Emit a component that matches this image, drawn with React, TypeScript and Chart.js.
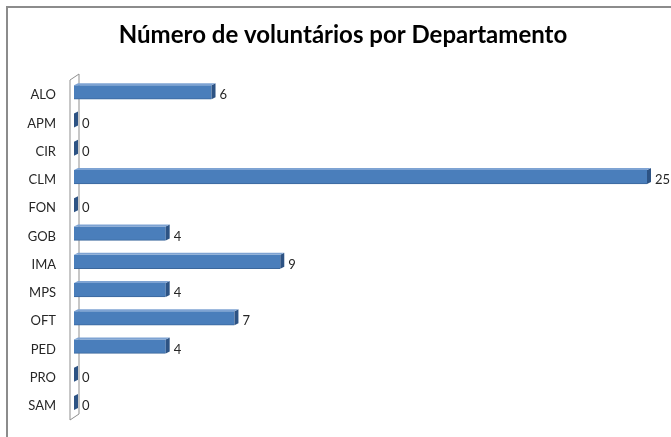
import React, { useEffect, useRef } from "react";
import { Chart, registerables } from "chart.js";

Chart.register(...registerables);

const TITLE = "Número de voluntários por Departamento";
const departments = ["ALO", "APM", "CIR", "CLM", "FON", "GOB", "IMA", "MPS", "OFT", "PED", "PRO", "SAM"];
const volunteers = [6, 0, 0, 25, 0, 4, 9, 4, 7, 4, 0, 0];
const X_MAX = 25;

const FONT = "Lato, 'Open Sans', sans-serif";

const decorPlugin = {
  id: "decor",
  beforeDatasetsDraw(chart: any) {
    const { ctx, chartArea } = chart;
    const l = chartArea.left;
    const t = chartArea.top;
    const b = chartArea.bottom;
    ctx.save();
    ctx.beginPath();
    ctx.moveTo(l - 4, t + 2);
    ctx.lineTo(l + 5, t - 4);
    ctx.lineTo(l + 5, b - 3);
    ctx.lineTo(l - 4, b + 3);
    ctx.closePath();
    ctx.fillStyle = "#ffffff";
    ctx.fill();
    ctx.strokeStyle = "#8f8f8f";
    ctx.lineWidth = 1;
    ctx.stroke();
    ctx.restore();
  },
  afterDatasetsDraw(chart: any) {
    const { ctx } = chart;
    const meta = chart.getDatasetMeta(0);
    ctx.save();
    meta.data.forEach((bar: any, i: number) => {
      const x = bar.x;
      const h = bar.height;
      const top = bar.y - h / 2;
      const bottom = bar.y + h / 2;
      ctx.beginPath();
      ctx.moveTo(x, top);
      ctx.lineTo(x + 4, top - 2);
      ctx.lineTo(x + 4, bottom - 2);
      ctx.lineTo(x, bottom);
      ctx.closePath();
      ctx.fillStyle = "#2d5384";
      ctx.fill();
      if (x - bar.base > 1) {
        ctx.beginPath();
        ctx.moveTo(bar.base, top);
        ctx.lineTo(bar.base + 4, top - 2);
        ctx.lineTo(x + 4, top - 2);
        ctx.lineTo(x, top);
        ctx.closePath();
        ctx.fillStyle = "#7ea3d3";
        ctx.fill();
      }
      ctx.fillStyle = "#262626";
      ctx.font = `13px ${FONT}`;
      ctx.textAlign = "left";
      ctx.textBaseline = "middle";
      ctx.fillText(String(volunteers[i]), x + 8, bar.y + 3);
    });
    ctx.restore();
  },
  afterDraw(chart: any) {
    const { ctx } = chart;
    ctx.save();
    ctx.strokeStyle = "#8c8c8c";
    ctx.lineWidth = 2;
    ctx.beginPath();
    ctx.moveTo(7, 437);
    ctx.lineTo(7, 7);
    ctx.lineTo(671, 7);
    ctx.stroke();
    ctx.fillStyle = "#000000";
    ctx.font = `bold 24px ${FONT}`;
    ctx.textAlign = "center";
    ctx.textBaseline = "alphabetic";
    ctx.fillText(TITLE, 343, 43);
    ctx.restore();
  },
};

export default function App() {
  const ref = useRef<HTMLCanvasElement>(null);
  useEffect(() => {
    if (!ref.current) return;
    const chart = new Chart(ref.current, {
      type: "bar",
      data: {
        labels: departments,
        datasets: [
          {
            data: volunteers,
            backgroundColor: "#4a7ebb",
            borderColor: "#3b679c",
            borderWidth: { top: 0, right: 0, bottom: 1, left: 0 } as any,
            borderSkipped: false,
            barThickness: 14,
          },
        ],
      },
      options: {
        indexAxis: "y",
        animation: false,
        responsive: false,
        devicePixelRatio: 1,
        layout: { padding: { left: 0, right: 24, top: 78, bottom: 20 } },
        plugins: {
          legend: { display: false },
          title: { display: false },
          tooltip: { enabled: false },
        },
        scales: {
          x: { display: false, min: 0, max: X_MAX },
          y: {
            grid: {
              display: true,
              drawOnChartArea: false,
              drawTicks: true,
              tickLength: 18,
              color: "rgba(0,0,0,0)",
            },
            border: { display: false },
            ticks: {
              padding: 0,
              labelOffset: 3,
              color: "#262626",
              font: { family: FONT, size: 13 },
            },
            afterFit(scale: any) {
              scale.width = 74;
            },
          },
        },
      },
      plugins: [decorPlugin],
    });
    return () => chart.destroy();
  }, []);
  return (
    <div style={{ position: "absolute", left: 0, top: 0, width: 671, height: 437, background: "#fff" }}>
      <canvas ref={ref} width={671} height={437} style={{ display: "block", width: 671, height: 437 }} />
    </div>
  );
}
